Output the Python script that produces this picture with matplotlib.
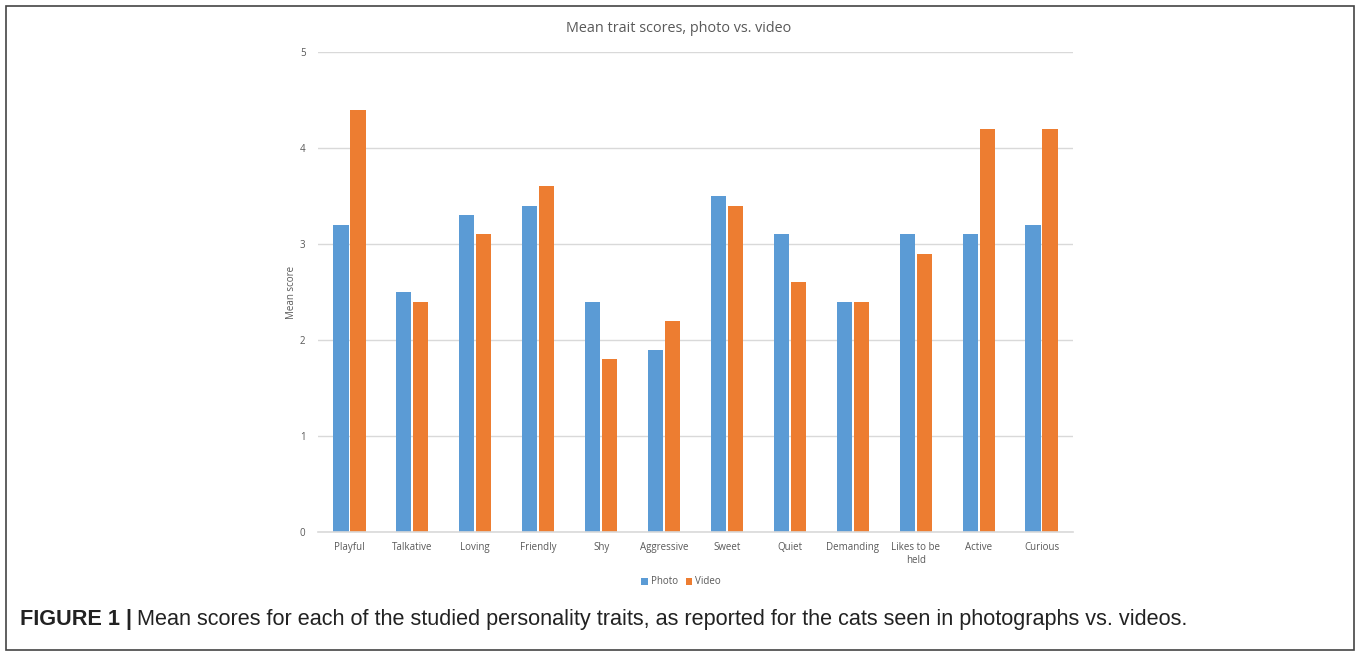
import matplotlib
matplotlib.use("Agg")
import matplotlib.pyplot as plt
import numpy as np
from matplotlib.patches import Rectangle
from matplotlib.transforms import offset_copy

categories = ["Playful", "Talkative", "Loving", "Friendly", "Shy", "Aggressive",
              "Sweet", "Quiet", "Demanding", "Likes to be\nheld", "Active", "Curious"]
photo = [3.2, 2.5, 3.3, 3.4, 2.4, 1.9, 3.5, 3.1, 2.4, 3.1, 3.1, 3.2]
video = [4.4, 2.4, 3.1, 3.6, 1.8, 2.2, 3.4, 2.6, 2.4, 2.9, 4.2, 4.2]
series_names = ["Photo", "Video"]
yticks = [0, 1, 2, 3, 4, 5]

W, H = 1360, 656
fig = plt.figure(figsize=(W / 100, H / 100), dpi=100)
fig.patch.set_facecolor("white")

TXT = "#595959"
BLUE = "#5B9BD5"
ORANGE = "#ED7D31"
GRID = "#D9D9D9"
FONT = "Open Sans"

L, R, T, B = 318, 1073, 52, 532
ax = fig.add_axes([L / W, 1 - B / H, (R - L) / W, (B - T) / H])
x = np.arange(len(categories))
bw = 0.24
ax.bar(x - bw / 2 - 0.015, photo, bw, color=BLUE, label=series_names[0], zorder=3)
ax.bar(x + bw / 2 + 0.015, video, bw, color=ORANGE, label=series_names[1], zorder=3)
ax.set_xlim(-0.5, len(categories) - 0.5)
ax.set_ylim(0, 5)
ax.set_yticks(yticks)
ax.set_yticklabels([str(v) for v in yticks], fontsize=7, color=TXT, family=FONT)
ax.set_xticks(x)
ax.set_xticklabels([])
ax.tick_params(axis="both", length=0)
ax.tick_params(axis="y", pad=9)
ax.grid(axis="y", color=GRID, linewidth=1, zorder=0)
for s in ["top", "right", "left"]:
    ax.spines[s].set_visible(False)
ax.spines["bottom"].set_color(GRID)
ax.spines["bottom"].set_linewidth(1.2)
ax.spines["bottom"].set_zorder(4)
ax.set_ylabel("Mean score", fontsize=7, color=TXT, family=FONT, labelpad=2)

# category labels, baseline-aligned
for xi, lab in zip(x, categories):
    lines = lab.split("\n")
    for k, line in enumerate(lines):
        tr = offset_copy(ax.get_xaxis_transform(), fig=fig, x=0, y=-(18 + 13 * k) * 0.72,
                         units="points")
        ax.text(xi, 0, line, transform=tr, ha="center", va="baseline", fontsize=7,
                color=TXT, family=FONT, clip_on=False)

fig.text(679 / W, 1 - 29 / H, "Mean trait scores, photo vs. video", ha="center", va="center",
         fontsize=10.4, color=TXT, family=FONT)

leg = fig.legend(loc="center", bbox_to_anchor=(681 / W, 1 - 582 / H), ncol=2, frameon=False,
                 prop={"family": FONT, "size": 7}, handlelength=0.7, handleheight=0.7,
                 handletextpad=0.3, columnspacing=0.8, labelcolor=TXT)

# outer frame
fig.add_artist(Rectangle((6 / W, 1 - 650 / H), (1354 - 6) / W, (650 - 6) / H,
                         transform=fig.transFigure, fill=False, edgecolor="#444444", linewidth=1.2))

CAP = 15.6
t1 = fig.text(20 / W, 1 - 620 / H, "FIGURE 1 |", ha="left", va="center", fontsize=CAP,
              fontweight="bold", color="#222222", family="Liberation Sans")
fig.canvas.draw()
bb = t1.get_window_extent()
fig.text((bb.x1 + 5) / W, 1 - 620 / H,
         "Mean scores for each of the studied personality traits, as reported for the cats seen in photographs vs. videos.",
         ha="left", va="center", fontsize=CAP, color="#222222", family="Liberation Sans")

fig.savefig("out.png", dpi=100, facecolor="white")
